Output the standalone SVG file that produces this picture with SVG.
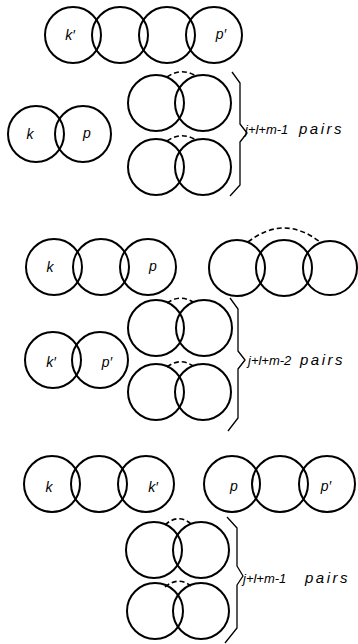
<svg xmlns="http://www.w3.org/2000/svg" width="358" height="644" viewBox="0 0 358 644">
<style>
.c{fill:none;stroke:#000;stroke-width:2}
.l{font-family:"Liberation Sans","DejaVu Sans",sans-serif;font-style:italic;font-size:14px;text-anchor:middle;fill:#000}
.t{font-family:"Liberation Sans","DejaVu Sans",sans-serif;font-style:italic;font-size:15px;fill:#000}
.e{font-size:13px}
.d{fill:none;stroke:#000;stroke-width:1.6;stroke-dasharray:5 3}
.b{fill:none;stroke:#000;stroke-width:1.3;stroke-linejoin:round}
</style>
<rect width="358" height="644" fill="#fff"/>
<!-- Section 1 -->
<g id="s1-r1-c1"><circle class="c" cx="73" cy="35" r="28"/><text class="l" x="70" y="40">k′</text></g>
<g id="s1-r1-c2"><circle class="c" cx="120" cy="35" r="28"/></g>
<g id="s1-r1-c3"><circle class="c" cx="167" cy="35" r="28"/></g>
<g id="s1-r1-c4"><circle class="c" cx="214" cy="35" r="28"/><text class="l" x="221" y="39">p′</text></g>
<g id="s1-k"><circle class="c" cx="36" cy="134" r="28"/><text class="l" x="30" y="139">k</text></g>
<g id="s1-p"><circle class="c" cx="83" cy="134" r="28"/><text class="l" x="87" y="138">p</text></g>
<g id="s1-pair1a"><circle class="c" cx="156" cy="103" r="28"/></g>
<g id="s1-pair1b"><circle class="c" cx="203" cy="103" r="28"/></g>
<g id="s1-pair2a"><circle class="c" cx="156" cy="167" r="28"/></g>
<g id="s1-pair2b"><circle class="c" cx="203" cy="167" r="28"/></g>
<g id="s1-label"><text class="t" y="134"><tspan class="e" x="245">j+l+m-1</tspan><tspan x="299" letter-spacing="2.5">pairs</tspan></text></g>
<!-- Section 2 -->
<g id="s2-k"><circle class="c" cx="54" cy="267" r="28"/><text class="l" x="50" y="272">k</text></g>
<g id="s2-mid"><circle class="c" cx="101" cy="267" r="28"/></g>
<g id="s2-p"><circle class="c" cx="148" cy="267" r="28"/><text class="l" x="153" y="271">p</text></g>
<g id="s2-t1"><circle class="c" cx="237" cy="268" r="28"/></g>
<g id="s2-t2"><circle class="c" cx="284" cy="268" r="28"/></g>
<g id="s2-t3"><circle class="c" cx="330" cy="268" r="27"/></g>
<g id="s2-k2"><circle class="c" cx="53" cy="360" r="28"/><text class="l" x="51" y="367">k′</text></g>
<g id="s2-p2"><circle class="c" cx="100" cy="360" r="28"/><text class="l" x="107" y="367">p′</text></g>
<g id="s2-pair1a"><circle class="c" cx="156" cy="328" r="28"/></g>
<g id="s2-pair1b"><circle class="c" cx="204" cy="328" r="28"/></g>
<g id="s2-pair2a"><circle class="c" cx="156" cy="392" r="28"/></g>
<g id="s2-pair2b"><circle class="c" cx="203" cy="392" r="28"/></g>
<g id="s2-label"><text class="t" y="365"><tspan class="e" x="248">j+l+m-2</tspan><tspan x="300" letter-spacing="2.5">pairs</tspan></text></g>
<!-- Section 3 -->
<g id="s3-k"><circle class="c" cx="52" cy="484" r="28"/><text class="l" x="49" y="492">k</text></g>
<g id="s3-mid1"><circle class="c" cx="99" cy="484" r="28"/></g>
<g id="s3-k2"><circle class="c" cx="146" cy="484" r="28"/><text class="l" x="153" y="492">k′</text></g>
<g id="s3-p"><circle class="c" cx="232" cy="484" r="28"/><text class="l" x="234" y="491">p</text></g>
<g id="s3-mid2"><circle class="c" cx="280" cy="484" r="28"/></g>
<g id="s3-p2"><circle class="c" cx="327" cy="484" r="28"/><text class="l" x="326" y="491">p′</text></g>
<g id="s3-pair1a"><circle class="c" cx="154" cy="550" r="28"/></g>
<g id="s3-pair1b"><circle class="c" cx="201" cy="550" r="28"/></g>
<g id="s3-pair2a"><circle class="c" cx="155" cy="611" r="28"/></g>
<g id="s3-pair2b"><circle class="c" cx="201" cy="611" r="28"/></g>
<g id="s3-label"><text class="t" y="583"><tspan class="e" x="243">j+l+m-1</tspan><tspan x="305" letter-spacing="2.5">pairs</tspan></text></g>
<!-- connectors: dashed arcs and braces -->
<g id="connectors">
<path class="d" d="M167,77 Q181,67 196,76"/>
<path class="d" d="M167,141 Q181,131 196,140"/>
<path class="d" d="M248,242 Q284,214 320,242"/>
<path class="d" d="M167,303 Q180,294 193,302"/>
<path class="d" d="M167,367 Q180,357 193,366"/>
<path class="d" d="M165,525 Q178,513 191,524"/>
<path class="d" d="M165,587 Q178,576 191,586"/>
<path class="b" d="M232,72 L240,83 L240,124 L247,133 L240,142 L240,185 L230,196"/>
<path class="b" d="M230,298 L238,309 L238,351 L245,360 L238,369 L238,418 L228,431"/>
<path class="b" d="M227,517 L237,528 L237,566 L243,576 L237,585 L237,628 L225,643"/>
</g>
</svg>
